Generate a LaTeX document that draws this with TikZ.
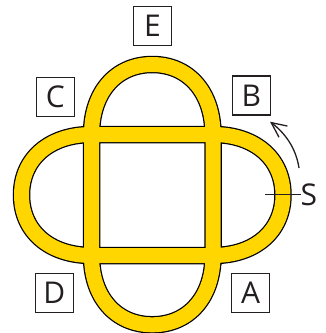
\documentclass[tikz,border=0pt]{standalone}
\usepackage{fontspec}
\setmainfont{Open Sans}
\usetikzlibrary{arrows.meta}
\definecolor{gold}{RGB}{255,214,0}
\definecolor{ink}{RGB}{35,31,32}
\begin{document}
\begin{tikzpicture}[x=1pt,y=-1pt,
  lbl/.style={draw=ink, line width=1.4pt, minimum width=38pt, minimum height=39pt, inner sep=0pt, font=\fontsize{30}{30}\selectfont, text=ink},
  ltr/.style={inner sep=0pt, font=\fontsize{30}{30}\selectfont, text=ink},
  band/.style={draw=gold, line width=15pt, preaction={draw=black, line width=17.5pt}},
  thin/.style={draw=ink, line width=1.3pt}
]
\useasboundingbox (0,0) rectangle (326,333);
% track
\path[band]
  (91.5,134.5) rectangle (213,255.5)
  (91.5,134.5) .. controls (91.5,92.5) and (115.8,64.5) .. (152.25,64.5)
               .. controls (188.7,64.5) and (213,92.5) .. (213,134.5)
  (91.5,255.5) .. controls (91.5,297.1) and (115.8,324.8) .. (152.25,324.8)
               .. controls (188.7,324.8) and (213,297.1) .. (213,255.5)
  (91.5,134.5) .. controls (49.5,134.5) and (21.5,158.7) .. (21.5,195)
               .. controls (21.5,231.3) and (49.5,255.5) .. (91.5,255.5)
  (213,134.5) .. controls (255,134.5) and (283,158.7) .. (283,195)
              .. controls (283,231.3) and (255,255.5) .. (213,255.5);
% labels
\node[lbl] (E) at (152.5,26) {E};
\node[lbl] (C) at (55.3,96.7) {C};
\node[lbl] (B) at (251.3,95.5) {B};
\node[lbl] (D) at (54.3,292.8) {D};
\node[lbl] (A) at (250.5,293) {A};
% S marker
\node[ltr, anchor=west] (S) at (300.5,195) {S};
\coordinate (sL) at (265,194.3);
\draw[thin] (sL) -- (S.west |- sL);
% arrow
\coordinate (arS) at (299,168);
\coordinate (arE) at (270,121.7);
\draw[thin, -{Straight Barb[length=15pt, width=14pt]}] (arS) .. controls (296,148) and (285,133) .. (arE);
\end{tikzpicture}
\end{document}
